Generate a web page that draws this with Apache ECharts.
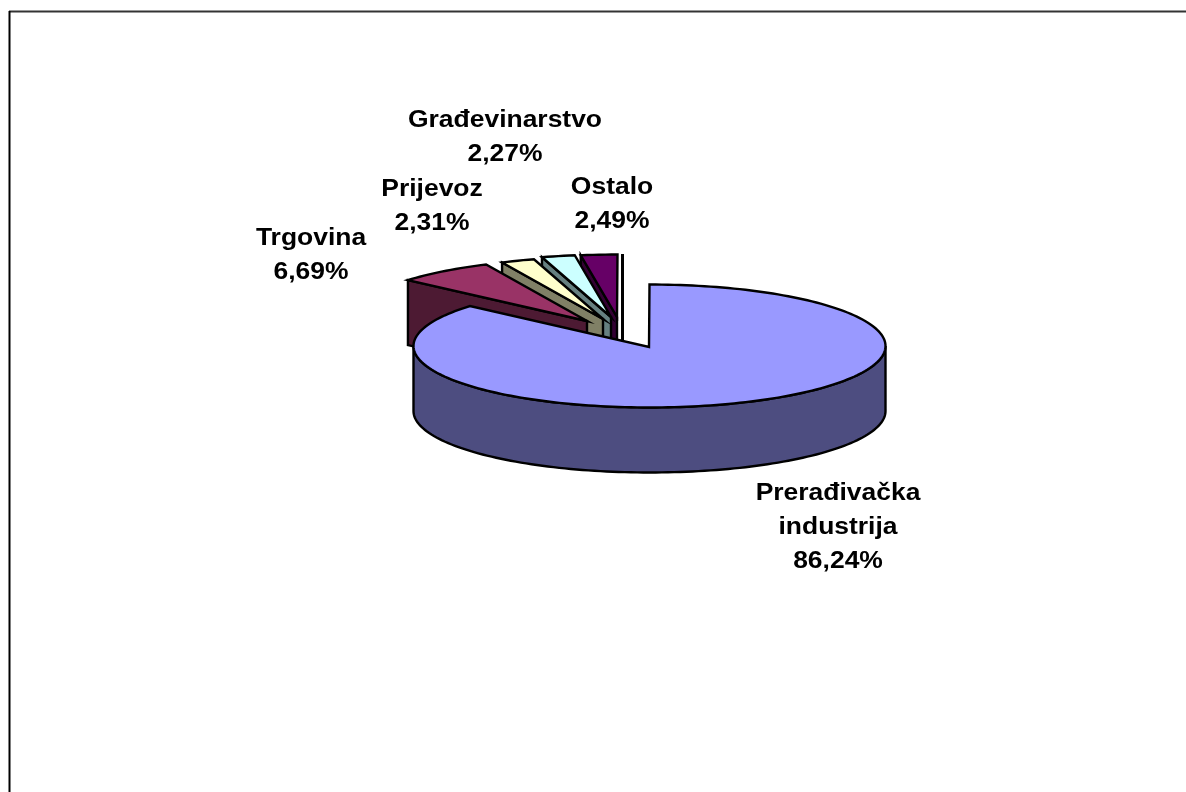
<!DOCTYPE html>
<html>
<head>
<meta charset="utf-8">
<style>html,body{margin:0;padding:0;background:#fff}#c{width:1186px;height:792px}</style>
<script src="https://cdn.jsdelivr.net/npm/echarts@6/dist/echarts.min.js"></script>
</head>
<body>
<div id="c"></div>
<script>
const categories = ['Prerađivačka\nindustrija', 'Trgovina', 'Prijevoz', 'Građevinarstvo', 'Ostalo'];
const shares = [86.24, 6.69, 2.31, 2.27, 2.49];

const topColors = ['#9999FF', '#993366', '#FFFFCC', '#CCFFFF', '#660066'];
const wallColors = ['#4D4D80', '#4D1A33', '#808066', '#668080', '#330033'];
const explode = [[0, 0], [-62, -26], [-46, -28], [-38, -30], [-32, -30]];
const labelAt = [[838, 528], [311, 256], [432, 207], [505, 138], [612, 205]];

const pie = { cx: 649.5, cy: 346, rx: 236, ry: 61.5, depth: 65, apexDx: -0.5, apexDy: 1 };
const total = shares.reduce((a, b) => a + b, 0);
const starts = [];
shares.reduce((sum, v, i) => { starts[i] = sum; return sum + v; }, 0);

function rim(frac, ox, oy) {
  const t = frac * 2 * Math.PI;
  return [pie.cx + ox + pie.rx * Math.sin(t), pie.cy + oy - pie.ry * Math.cos(t)];
}
function arc(f0, f1, ox, oy) {
  const n = Math.max(2, Math.ceil((f1 - f0) * 240));
  const pts = [];
  for (let k = 0; k <= n; k++) pts.push(rim(f0 + (f1 - f0) * k / n, ox, oy));
  return pts;
}
const lineStyle = (fill) => ({ fill, stroke: '#000', lineWidth: 2.4, lineJoin: 'miter' });

function renderSlice(params, api) {
  const i = params.dataIndex;
  const v = api.value(0);
  const f0 = starts[i] / total, f1 = (starts[i] + v) / total;
  const [ox, oy] = explode[i];
  const apex = [pie.cx + ox + pie.apexDx, pie.cy + oy + pie.apexDy];
  const base = 10 * (categories.length - i);
  const down = (p) => [p[0], p[1] + pie.depth];
  const children = [];
  if (i === 0) {
    const front = arc(0.25, 0.75, 0, 0);
    children.push({
      type: 'polygon', z2: base,
      shape: { points: front.concat(front.slice().reverse().map(down)) },
      style: lineStyle(wallColors[i])
    });
  } else {
    const s = rim(f0, ox, oy);
    children.push({
      type: 'polygon', z2: base,
      shape: { points: [s, apex, down(apex), down(s)] },
      style: lineStyle(wallColors[i])
    });
  }
  children.push({
    type: 'polygon', z2: base + 1,
    shape: { points: [apex].concat(arc(f0, f1, ox, oy)) },
    style: lineStyle(topColors[i])
  });
  children.push({
    type: 'text', z2: 200,
    x: labelAt[i][0], y: labelAt[i][1], scaleX: 1.15,
    style: {
      text: categories[i] + '\n' + v.toFixed(2).replace('.', ',') + '%',
      fill: '#000', align: 'center', verticalAlign: 'middle',
      font: 'bold 23px "Liberation Sans", Arial, sans-serif', lineHeight: 34
    }
  });
  return { type: 'group', children };
}

const chart = echarts.init(document.getElementById('c'), null, { renderer: 'canvas' });
chart.setOption({
  animation: false,
  backgroundColor: '#fff',
  graphic: [
    { type: 'line', silent: true, shape: { x1: 9, y1: 11.5, x2: 1186, y2: 11.5 }, style: { stroke: '#333', lineWidth: 2 } },
    { type: 'line', silent: true, shape: { x1: 9.5, y1: 11, x2: 9.5, y2: 792 }, style: { stroke: '#000', lineWidth: 2 } },
    { type: 'line', silent: true, z: 1, shape: { x1: 622.5, y1: 254, x2: 622.5, y2: 340 }, style: { stroke: '#000', lineWidth: 3 } }
  ],
  series: [{
    type: 'custom',
    coordinateSystem: 'none',
    renderItem: renderSlice,
    data: shares.map((v, i) => ({ name: categories[i], value: [v] })),
    z: 2
  }]
});
</script>
</body>
</html>
